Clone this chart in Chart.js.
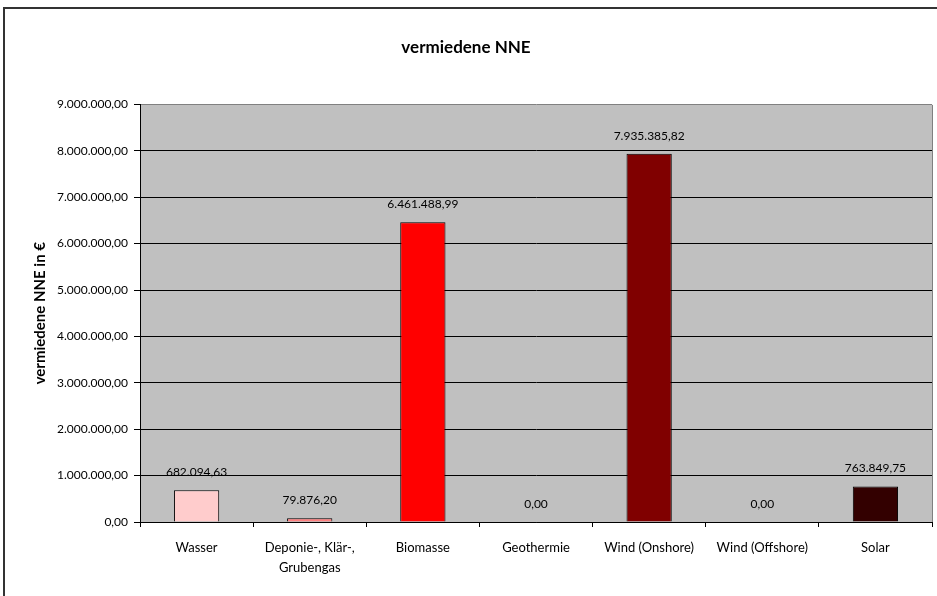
<!DOCTYPE html>
<html>
<head>
<meta charset="utf-8">
<script src="https://cdn.jsdelivr.net/npm/chart.js@4/dist/chart.umd.min.js"></script>
<style>
  html, body { margin: 0; padding: 0; background: #fff; overflow: hidden; }
  #wrap { position: absolute; left: 0; top: 0; width: 950px; height: 596px; }
</style>
</head>
<body>
<div id="wrap"><canvas id="myChart" width="950" height="596"></canvas></div>
<script>
// data
const categories = ['Wasser', ['Deponie-, Klär-,', 'Grubengas'], 'Biomasse', 'Geothermie', 'Wind (Onshore)', 'Wind (Offshore)', 'Solar'];
const values = [682094.63, 79876.20, 6461488.99, 0, 7935385.82, 0, 763849.75];
const barColors = ['#FFCCCC', '#FF8080', '#FF0000', '#CC0000', '#800000', '#660000', '#330000'];
const yMin = 0;
const yMax = 9000000;
const yStep = 1000000;

function fmt(v) {
    let parts = Number(v).toFixed(2).split('.');
    let intPart = parts[0].replace(/\B(?=(\d{3})+(?!\d))/g, '.');
    return intPart + ',' + parts[1];
}

// background of the plot area + outer frame
const frame = {
    id: 'frame',
    beforeDraw(chart) {
        const c = chart.ctx;
        const a = chart.chartArea;
        c.save();
        c.fillStyle = '#C0C0C0';
        c.fillRect(a.left, a.top, a.right - a.left, a.bottom - a.top);
        c.strokeStyle = '#333333';
        c.lineWidth = 2;
        c.beginPath();
        c.moveTo(4, 2000);
        c.lineTo(4, 8);
        c.lineTo(2000, 8);
        c.stroke();
        c.restore();
    },
    afterDraw(chart) {
        const c = chart.ctx;
        const a = chart.chartArea;
        c.save();
        c.strokeStyle = '#808080';
        c.lineWidth = 1;
        c.beginPath();
        c.moveTo(a.right + 0.5, a.bottom);
        c.lineTo(a.right + 0.5, a.top + 0.5);
        c.stroke();
        c.restore();
    }
};

// value labels above each bar
const valueLabels = {
    id: 'valueLabels',
    afterDatasetsDraw(chart) {
        const c = chart.ctx;
        const meta = chart.getDatasetMeta(0);
        c.save();
        c.font = '12px Lato';
        c.fillStyle = '#000';
        c.textAlign = 'center';
        c.textBaseline = 'middle';
        meta.data.forEach((bar, i) => {
            c.fillText(fmt(values[i]), bar.x, bar.y - 18);
        });
        c.restore();
    }
};

const ctx = document.getElementById('myChart');
const myChart = new Chart(ctx, {
    type: 'bar',
    data: {
        labels: categories,
        datasets: [{
            label: 'vermiedene NNE',
            data: values,
            backgroundColor: barColors,
            borderColor: '#000',
            borderWidth: 1,
            barPercentage: 0.4,
            categoryPercentage: 1.0
        }]
    },
    options: {
        responsive: false,
        animation: false,
        layout: { padding: { left: 0, right: 18, top: 0, bottom: 0 } },
        plugins: {
            legend: { display: false },
            tooltip: { enabled: false },
            title: {
                display: true,
                text: 'vermiedene NNE',
                color: '#000',
                font: { family: 'Lato', size: 17, weight: 'bold' },
                padding: { top: 37, bottom: 47 }
            }
        },
        scales: {
            x: {
                grid: {
                    offset: true,
                    drawOnChartArea: false,
                    drawTicks: true,
                    tickLength: 5,
                    tickColor: '#000'
                },
                border: { display: true, color: '#000', width: 1 },
                ticks: {
                    color: '#000',
                    font: { family: 'Lato', size: 13, lineHeight: 1.6 },
                    padding: 10,
                    autoSkip: false,
                    maxRotation: 0
                },
                afterFit(scale) { scale.height = 74; }
            },
            y: {
                min: yMin,
                max: yMax,
                ticks: {
                    stepSize: yStep,
                    color: '#000',
                    font: { family: 'Lato', size: 12 },
                    padding: 6,
                    callback: (v) => fmt(v)
                },
                grid: {
                    color: (c) => (c.tick && c.tick.value === yMax) ? '#808080' : '#000',
                    lineWidth: 1,
                    drawTicks: true,
                    tickLength: 6,
                    tickColor: '#000'
                },
                border: { display: true, color: '#000', width: 1 },
                title: {
                    display: true,
                    text: 'vermiedene NNE in €',
                    color: '#000',
                    font: { family: 'Lato', size: 15, weight: 'bold' },
                    padding: { top: 31, bottom: 0 }
                },
                afterFit(scale) { scale.width = 140; }
            }
        }
    },
    plugins: [frame, valueLabels]
});
</script>
</body>
</html>
